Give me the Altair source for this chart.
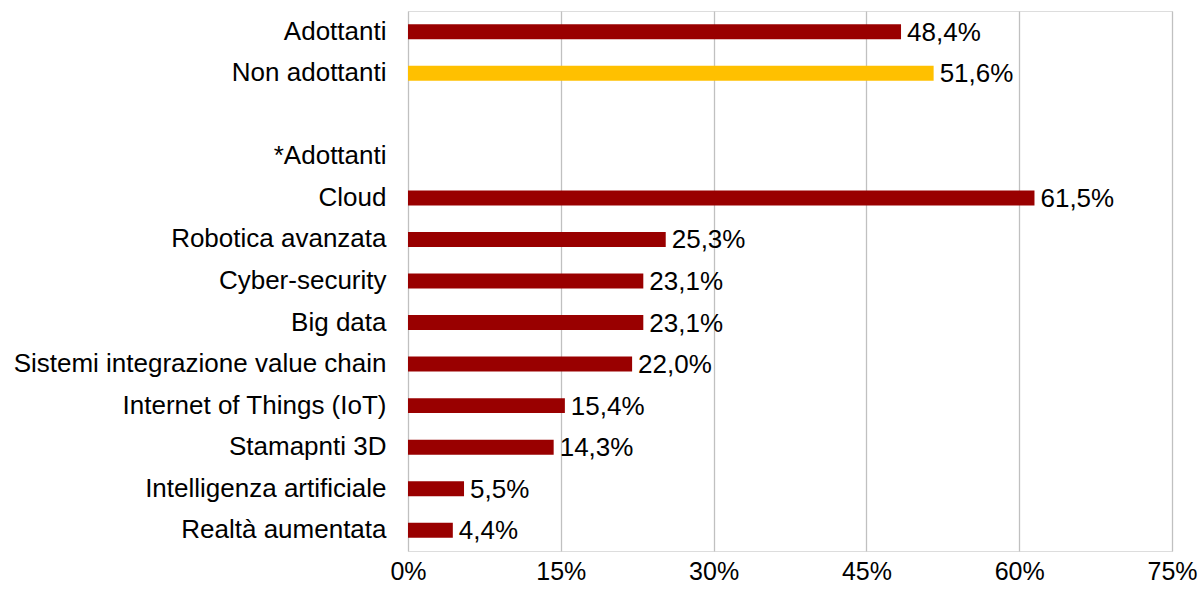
import altair as alt
import pandas as pd

categories = ["Adottanti", "Non adottanti", " ", "*Adottanti", "Cloud", "Robotica avanzata",
              "Cyber-security", "Big data", "Sistemi integrazione value chain",
              "Internet of Things (IoT)", "Stamapnti 3D", "Intelligenza artificiale",
              "Realtà aumentata"]
values = [48.4, 51.6, None, None, 61.5, 25.3, 23.1, 23.1, 22.0, 15.4, 14.3, 5.5, 4.4]
groups = ["a", "n", "a", "a", "a", "a", "a", "a", "a", "a", "a", "a", "a"]
x_ticks = [0, 15, 30, 45, 60, 75]

labels = [("" if v is None else f"{v:.1f}".replace(".", ",") + "%") for v in values]
df = pd.DataFrame({"cat": categories, "val": values, "grp": groups, "lab": labels})

FONT = "Liberation Sans"
FS = 26

y_enc = alt.Y("cat:N", sort=categories, title=None,
              scale=alt.Scale(paddingInner=0.64, paddingOuter=0.32),
              axis=alt.Axis(labelFont=FONT, labelFontSize=FS, labelColor="#000000",
                            labelPadding=22, ticks=False, domain=False, labelLimit=600))

bars = alt.Chart(df).mark_bar().encode(
    y=y_enc,
    x=alt.X("val:Q", title=None,
            scale=alt.Scale(domain=[0, 75], nice=False),
            axis=alt.Axis(values=x_ticks, labelExpr="datum.value + '%'",
                          labelFont=FONT, labelFontSize=25, labelColor="#000000",
                          labelPadding=8, labelFlush=False, ticks=False, domain=False,
                          grid=True, gridColor="#C0C0C0", gridWidth=1.3)),
    color=alt.Color("grp:N", scale=alt.Scale(domain=["a", "n"], range=["#990000", "#FFC000"]),
                    legend=None),
)

text = alt.Chart(df).mark_text(align="left", baseline="middle", dx=6, dy=1,
                               font=FONT, fontSize=FS, color="#000000").encode(
    y=alt.Y("cat:N", sort=categories),
    x=alt.X("val:Q"),
    text="lab:N",
)

chart = (bars + text).properties(
    width=764, height=540,
    autosize=alt.AutoSizeParams(type="none"),
    padding={"left": 408, "top": 11, "right": 30, "bottom": 38},
).configure_view(stroke=None).configure(background="#ffffff")

chart.save("out.html", embed_options={"renderer": "svg", "actions": False})
